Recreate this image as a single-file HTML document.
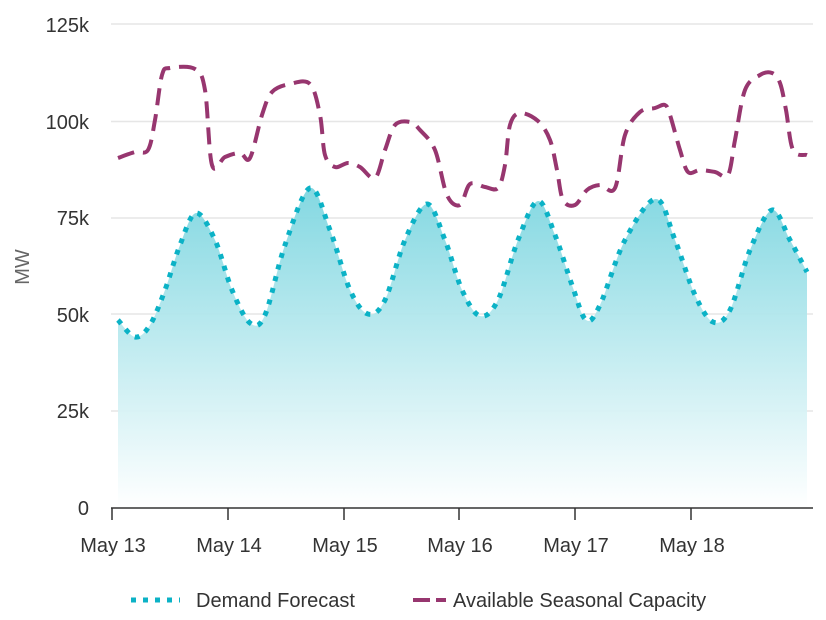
<!DOCTYPE html>
<html><head><meta charset="utf-8"><style>
html,body{margin:0;padding:0;background:#fff}
svg{display:block;font-family:"Liberation Sans",Arial,sans-serif}
</style></head><body>
<svg id="s" width="826" height="620" viewBox="0 0 826 620">
<defs><linearGradient id="g" x1="0" y1="0" x2="0" y2="1">
<stop offset="0" stop-color="#7dd6e0"/><stop offset="1" stop-color="#ffffff"/></linearGradient></defs>
<g stroke="#e6e6e6" stroke-width="1.5">
<line x1="111" x2="813" y1="24" y2="24"/><line x1="111" x2="813" y1="121.5" y2="121.5"/>
<line x1="111" x2="813" y1="218" y2="218"/><line x1="111" x2="813" y1="314" y2="314"/>
<line x1="111" x2="813" y1="411" y2="411"/>
</g>
<g font-size="20" fill="#333" text-anchor="end">
<text x="89" y="32">125k</text><text x="89" y="129">100k</text><text x="89" y="225">75k</text>
<text x="89" y="322">50k</text><text x="89" y="418">25k</text><text x="89" y="515">0</text>
</g>
<text transform="translate(29,267) rotate(-90)" font-size="20" fill="#666" text-anchor="middle">MW</text>
<path id="area" fill="url(#g)" opacity="0.95"/>
<path id="dem" fill="none" stroke="#0bb2c6" stroke-width="5" stroke-dasharray="5 7"/>
<path id="cap" fill="none" stroke="#97366f" stroke-width="4" stroke-dasharray="17 9"/>
<g stroke="#333" stroke-width="1.5">
<line x1="111" x2="813" y1="508" y2="508"/>
<line x1="112" x2="112" y1="508" y2="520"/><line x1="228" x2="228" y1="508" y2="520"/>
<line x1="344" x2="344" y1="508" y2="520"/><line x1="459" x2="459" y1="508" y2="520"/>
<line x1="575" x2="575" y1="508" y2="520"/><line x1="691" x2="691" y1="508" y2="520"/>
</g>
<g font-size="20" fill="#333" text-anchor="middle">
<text x="113" y="552">May 13</text><text x="229" y="552">May 14</text><text x="345" y="552">May 15</text>
<text x="460" y="552">May 16</text><text x="576" y="552">May 17</text><text x="692" y="552">May 18</text>
</g>
<line x1="131" x2="180" y1="600" y2="600" stroke="#0bb2c6" stroke-width="5" stroke-dasharray="5 7"/>
<text x="196" y="607" font-size="20" fill="#333">Demand Forecast</text>
<line x1="413" x2="446" y1="600" y2="600" stroke="#97366f" stroke-width="4" stroke-dasharray="17 6"/>
<text x="453" y="607" font-size="20" fill="#333">Available Seasonal Capacity</text>
</svg>
<script>
function sm(p){var d="M"+p[0][0]+","+p[0][1];for(var i=0;i<p.length-1;i++){var a=p[i-1]||p[i],b=p[i],c=p[i+1],e=p[i+2]||c;
d+=" C"+(b[0]+(c[0]-a[0])/6)+","+(b[1]+(c[1]-a[1])/6)+" "+(c[0]-(e[0]-b[0])/6)+","+(c[1]-(e[1]-b[1])/6)+" "+c[0]+","+c[1];}return d;}
var D=[[118,320],[135,337],[150,325],[165,290],[180,245],[196,213],[215,240],[232,290],[250,323],[265,315],[285,245],[310,188],[330,230],[350,290],[368,314],[385,300],[405,240],[427,204],[445,240],[462,290],[480,316],[498,300],[518,240],[538,201],[555,235],[572,285],[586,320],[600,305],[625,240],[656,199],[675,240],[695,295],[713,322],[730,310],[750,250],[772,210],[790,240],[807,272]];
var C=[[118,158],[135,152],[148,150],[155,120],[162,75],[170,68],[195,69],[205,90],[212,165],[225,157],[240,153],[250,158],[262,115],[272,92],[290,84],[310,84],[320,115],[325,155],[335,167],[348,163],[360,167],[375,178],[385,150],[395,125],[410,122],[420,130],[435,150],[447,195],[460,205],[470,184],[485,187],[498,188],[505,165],[510,125],[520,113],[538,121],[550,140],[557,170],[563,200],[575,205],[587,190],[600,185],[615,188],[625,135],[640,112],[655,108],[665,105],[670,115],[680,150],[688,172],[700,170],[715,172],[728,175],[735,140],[745,90],[760,75],[772,73],[780,83],[786,110],[793,150],[807,155]];
var dd=sm(D);document.getElementById("dem").setAttribute("d",dd);
document.getElementById("area").setAttribute("d",dd+" L807,508 L118,508 Z");
document.getElementById("cap").setAttribute("d",sm(C));
</script>
</body></html>
